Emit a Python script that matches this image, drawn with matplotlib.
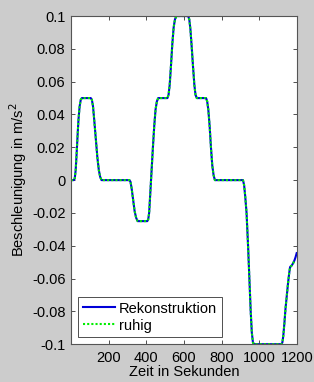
import matplotlib
matplotlib.use("Agg")
import matplotlib.pyplot as plt

plt.rcParams['font.family'] = ['Liberation Sans', 'DejaVu Sans']

# time in seconds and acceleration in m/s^2
zeit = [0, 15, 20, 25, 30, 35, 40, 46, 52, 58, 105, 111, 117, 124, 132, 140, 148, 155, 162,
        310, 316, 322, 330, 338, 346, 354, 405, 410, 415, 421, 428, 435, 442, 449, 456, 463,
        512, 518, 524, 531, 538, 545, 552, 560, 622, 628, 634, 641, 648, 655, 661, 668,
        717, 723, 729, 736, 743, 750, 757, 764, 913, 919, 925, 932, 940, 947, 954, 960, 966, 972,
        1117, 1122, 1127, 1133, 1139, 1146, 1152, 1158, 1163, 1172, 1180, 1186, 1192, 1198]
rekonstruktion = [0, 0, 0.001, 0.006, 0.016, 0.027, 0.037, 0.045, 0.049, 0.05, 0.05, 0.049, 0.045, 0.036, 0.025, 0.014, 0.006, 0.002, 0,
                  0, -0.001, -0.005, -0.012, -0.019, -0.023, -0.025, -0.025, -0.024, -0.02, -0.008, 0.006, 0.02, 0.033, 0.043, 0.048, 0.05,
                  0.05, 0.052, 0.058, 0.07, 0.083, 0.093, 0.098, 0.1, 0.1, 0.098, 0.092, 0.081, 0.069, 0.058, 0.052, 0.05,
                  0.05, 0.048, 0.043, 0.033, 0.02, 0.009, 0.003, 0, 0, -0.003, -0.01, -0.02, -0.04, -0.06, -0.08, -0.093, -0.099, -0.1,
                  -0.1, -0.099, -0.095, -0.087, -0.078, -0.07, -0.063, -0.057, -0.053, -0.052, -0.0505, -0.049, -0.047, -0.0445]
zeit_ruhig = zeit[:-2]
ruhig = rekonstruktion[:-2]

yticks = [-0.1, -0.08, -0.06, -0.04, -0.02, 0, 0.02, 0.04, 0.06, 0.08, 0.1]
ytick_labels = ['-0.1', '-0.08', '-0.06', '-0.04', '-0.02', '0', '0.02', '0.04', '0.06', '0.08', '0.1']
xticks = [200, 400, 600, 800, 1000, 1200]

fig = plt.figure(figsize=(3.14, 3.82), dpi=100, facecolor='#cccccc')
ax = fig.add_axes([0.226, 0.099, 0.72, 0.859])
ax.set_facecolor('white')
ax.plot(zeit, rekonstruktion, color='#0000d8', lw=1.5, label='Rekonstruktion')
ax.plot(zeit_ruhig, ruhig, color='#00ee00', lw=1.5, linestyle=(0, (1, 1)), label='ruhig')
ax.set_xlim(0, 1200)
ax.set_ylim(-0.1, 0.1)
ax.set_xticks(xticks)
ax.set_xticklabels([str(v) for v in xticks])
ax.set_yticks(yticks)
ax.set_yticklabels(ytick_labels)
ax.tick_params(direction='in', top=True, right=True, length=3, width=0.6, color='#333333',
               labelsize=10.5)
ax.tick_params(axis='x', pad=5)
ax.tick_params(axis='y', pad=4)
for s in ax.spines.values():
    s.set_color('#555555')
    s.set_linewidth(0.8)
ax.set_xlabel('Zeit in Sekunden', fontsize=10.5, labelpad=0)
ax.set_ylabel('Beschleunigung in m/s$^2$', fontsize=10.5, labelpad=2)
leg = ax.legend(loc='lower left', fontsize=10.5, fancybox=False, framealpha=1,
                edgecolor='#333333', borderpad=0.3, handlelength=2.2, handletextpad=0.3,
                labelspacing=0.2, borderaxespad=0.5)
leg.get_frame().set_linewidth(0.6)
fig.savefig('out.png', dpi=100, facecolor=fig.get_facecolor())
